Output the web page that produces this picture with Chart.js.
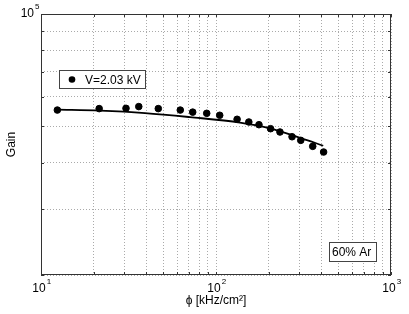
<!DOCTYPE html>
<html>
<head>
<meta charset="utf-8">
<script src="https://cdn.jsdelivr.net/npm/chart.js@4"></script>
<style>
  html, body { margin: 0; padding: 0; background: #fff; }
  #wrap { width: 409px; height: 314px; }
</style>
</head>
<body>
<div id="wrap"><canvas id="gainChart" width="409" height="314"></canvas></div>
<script>
// measured points (phi in kHz/cm2, gain)
const phi = [12.4, 21.5, 30.6, 36.2, 46.8, 62.5, 73.6, 88.5, 105, 132, 154, 176, 205, 232, 272, 305, 357, 412];
const gain = [55300, 55800, 55900, 56500, 55800, 55300, 54600, 54200, 53550, 52240, 51380, 50530, 49300, 48300, 46910, 45880, 44210, 42690];

// fitted curve
const fitPhi = [12.4, 21.7, 39.3, 71.0, 137, 203.5, 309, 410];
const fitGain = [55430, 55100, 54300, 52950, 51200, 49430, 46460, 44380];

const xTicks = [10, 20, 30, 40, 50, 60, 70, 80, 90, 100, 200, 300, 400, 500, 600, 700, 800, 900, 1000];
const yTicks = [20000, 30000, 40000, 50000, 60000, 70000, 80000, 90000, 100000];
const xLabels = [[10, '1'], [100, '2'], [1000, '3']];
const yLabels = [[100000, '5']];

const legendText = 'V=2.03 kV';
const noteText = '60% Ar';
const xTitle = 'ϕ [kHz/cm²]';
const yTitle = 'Gain';

const FONT = 'Liberation Sans, Arial, sans-serif';

const decor = {
    id: 'decor',
    afterDraw(chart) {
        const c = chart.ctx;
        const a = chart.chartArea;
        const xs = chart.scales.x, ys = chart.scales.y;
        c.save();
        // frame
        c.strokeStyle = '#333';
        c.lineWidth = 1;
        c.strokeRect(a.left + 0.5, a.top + 0.5, a.right - a.left - 1, a.bottom - a.top - 1);
        // small inward ticks
        c.beginPath();
        xTicks.forEach(v => {
            const px = Math.round(xs.getPixelForValue(v)) + 0.5;
            c.moveTo(px, a.bottom); c.lineTo(px, a.bottom - 3);
            c.moveTo(px, a.top); c.lineTo(px, a.top + 3);
        });
        yTicks.forEach(v => {
            const py = Math.round(ys.getPixelForValue(v)) + 0.5;
            c.moveTo(a.left, py); c.lineTo(a.left + 3, py);
            c.moveTo(a.right, py); c.lineTo(a.right - 3, py);
        });
        c.stroke();

        c.fillStyle = '#000';
        c.textBaseline = 'alphabetic';
        // x tick labels
        xLabels.forEach(([v, e]) => {
            const px = xs.getPixelForValue(v);
            c.font = '12px ' + FONT;
            const w = c.measureText('10').width;
            c.textAlign = 'left';
            c.fillText('10', px - w / 2 - 2, a.bottom + 17);
            c.font = '8px ' + FONT;
            c.fillText(e, px + w / 2 - 1, a.bottom + 9);
        });
        // y tick labels
        yLabels.forEach(([v, e]) => {
            const py = ys.getPixelForValue(v);
            c.font = '12px ' + FONT;
            const w = c.measureText('10').width;
            c.textAlign = 'left';
            c.fillText('10', a.left - 7 - w, py + 3);
            c.font = '8px ' + FONT;
            c.fillText(e, a.left - 6, py - 5);
        });
        // axis titles
        c.font = '12px ' + FONT;
        c.textAlign = 'center';
        c.fillText(xTitle, (a.left + a.right) / 2, a.bottom + 29);
        c.save();
        c.translate(15, (a.top + a.bottom) / 2);
        c.rotate(-Math.PI / 2);
        c.fillText(yTitle, 0, 0);
        c.restore();

        // legend box
        c.fillStyle = '#fff';
        c.fillRect(59, 70, 86, 18);
        c.strokeStyle = '#444';
        c.strokeRect(59.5, 70.5, 86, 18);
        c.fillStyle = '#000';
        c.beginPath();
        c.arc(72, 79.5, 3.3, 0, Math.PI * 2);
        c.fill();
        c.textAlign = 'left';
        c.font = '12px ' + FONT;
        c.fillText(legendText, 85, 84);

        // note box
        c.fillStyle = '#fff';
        c.fillRect(329, 242, 47, 19);
        c.strokeRect(329.5, 242.5, 47, 19);
        c.fillStyle = '#000';
        c.fillText(noteText, 332, 256);
        c.restore();
    }
};

const ctx = document.getElementById('gainChart').getContext('2d');
const gainChart = new Chart(ctx, {
    type: 'scatter',
    data: {
        datasets: [{
            label: 'fit',
            data: fitPhi.map((v, i) => ({ x: v, y: fitGain[i] })),
            showLine: true,
            borderColor: '#000',
            borderWidth: 1.8,
            pointRadius: 0,
            cubicInterpolationMode: 'monotone',
            order: 2
        }, {
            label: legendText,
            data: phi.map((v, i) => ({ x: v, y: gain[i] })),
            backgroundColor: '#000',
            borderColor: '#000',
            pointRadius: 3.3,
            order: 1
        }]
    },
    plugins: [decor],
    options: {
        responsive: false,
        animation: false,
        layout: { padding: { left: 41, top: 14, right: 18, bottom: 39 } },
        plugins: { legend: { display: false }, tooltip: { enabled: false } },
        scales: {
            x: {
                type: 'logarithmic',
                min: 10, max: 1000,
                afterBuildTicks: s => { s.ticks = xTicks.map(v => ({ value: v })); },
                ticks: { display: false },
                grid: { color: '#aaa', lineWidth: 1, drawTicks: false },
                border: { display: false, dash: [1, 2] }
            },
            y: {
                type: 'logarithmic',
                min: 20000, max: 100000,
                afterBuildTicks: s => { s.ticks = yTicks.map(v => ({ value: v })); },
                ticks: { display: false },
                grid: { color: '#aaa', lineWidth: 1, drawTicks: false },
                border: { display: false, dash: [1, 2] }
            }
        }
    }
});
</script>
</body>
</html>
